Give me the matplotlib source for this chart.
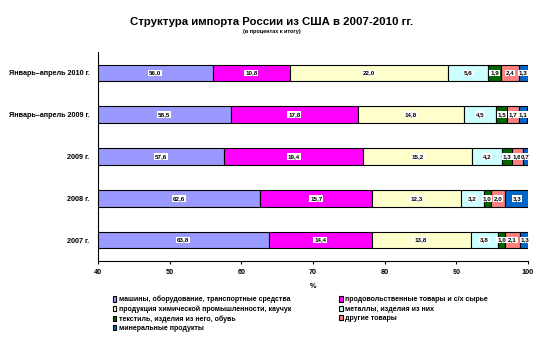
import matplotlib
matplotlib.use('Agg')
import matplotlib.pyplot as plt
import numpy as np

plt.rcParams['font.family'] = ['Liberation Sans', 'DejaVu Sans']

# rows top -> bottom
periods = ['Январь–апрель 2010 г.', 'Январь–апрель 2009 г.', '2009 г.', '2008 г.', '2007 г.']

series = ['машины, оборудование, транспортные средства',
          'продовольственные товары и с/х сырье',
          'продукция химической промышленности, каучук',
          'металлы, изделия из них',
          'текстиль, изделия из него, обувь',
          'другие товары',
          'минеральные продукты']

machines = [56.0, 58.5, 57.6, 62.6, 63.8]
food = [10.8, 17.8, 19.4, 15.7, 14.4]
chem = [22.0, 14.8, 15.2, 12.3, 13.8]
metals = [5.6, 4.5, 4.2, 3.2, 3.8]
textile = [1.9, 1.5, 1.3, 1.0, 1.0]
other = [2.4, 1.7, 1.6, 2.0, 2.1]
mineral = [1.3, 1.1, 0.7, 3.3, 1.3]

colors = ['#9999FF', '#FF00FF', '#FFFFCC', '#CCFFFF', '#006600', '#FF8080', '#0066CC']

data = [machines, food, chem, metals, textile, other, mineral]

fig = plt.figure(figsize=(5.43, 3.38), dpi=100)
ax = fig.add_axes([98/543, 77/338, 430/543, 209/338])

y = np.arange(len(periods))[::-1]
left = np.zeros(len(periods))
handles = []
for vals, col, name in zip(data, colors, series):
    vals = np.array(vals)
    b = ax.barh(y, vals, left=left, height=0.4, color=col, edgecolor='black',
                linewidth=0.8, label=name)
    handles.append(b)
    for yi, l, v in zip(y, left, vals):
        cx = max(l, 40) + (l + v - max(l, 40)) / 2
        ax.text(cx, yi, f'{v:.1f}'.replace('.', ','), ha='center', va='center',
                fontsize=4.5, fontweight='bold',
                bbox=dict(facecolor='white', edgecolor='none', pad=0.6))
    left = left + vals

ax.set_xlim(40, 100)
ax.set_ylim(-0.5, len(periods) - 0.5)
ax.set_xticks([40, 50, 60, 70, 80, 90, 100])
ax.set_yticks(y)
ax.set_yticklabels(periods)
ax.tick_params(axis='y', length=0, labelsize=5.2, pad=6)
ax.tick_params(axis='x', direction='out', length=2, labelsize=5.2, pad=4)
for lab in ax.get_xticklabels() + ax.get_yticklabels():
    lab.set_fontweight('bold')
ax.spines['top'].set_visible(False)
ax.spines['right'].set_visible(False)
ax.set_xlabel('%', fontsize=5.2, fontweight='bold', labelpad=5)

fig.text(0.5, 0.935, 'Структура импорта России из США в 2007-2010 гг.',
         ha='center', va='center', fontsize=8.2, fontweight='bold')
fig.text(0.5, 0.908, '(в процентах к итогу)', ha='center', va='center',
         fontsize=4, fontweight='bold')

# legend filled row by row: reorder for column-major fill
order = [0, 2, 4, 6, 1, 3, 5]
leg = fig.legend([handles[i] for i in order], [series[i] for i in order],
                 ncol=2, loc='upper left', bbox_to_anchor=(0.201, 0.135),
                 frameon=False, prop={'size': 5, 'weight': 'bold'},
                 handlelength=0.55, handleheight=0.75, handletextpad=0.4,
                 columnspacing=6.8, labelspacing=0.3, borderpad=0)

fig.savefig('out.png', dpi=100)
